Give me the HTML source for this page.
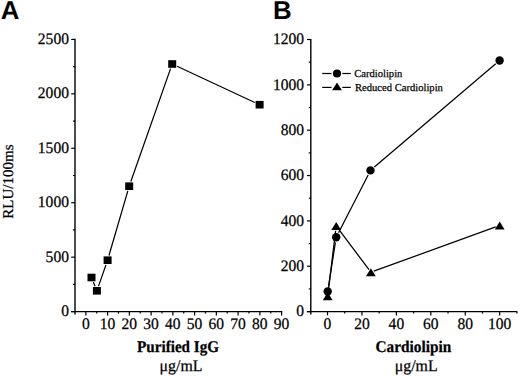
<!DOCTYPE html>
<html><head><meta charset="utf-8"><style>
html,body{margin:0;padding:0;background:#fff;}
body{width:520px;height:376px;overflow:hidden;}
svg{display:block;}
text{fill:#000;stroke:#000;stroke-width:0.25px;text-rendering:geometricPrecision;}
</style></head><body>
<svg width="520" height="376" viewBox="0 0 520 376" shape-rendering="geometricPrecision">
<line x1="75.00" y1="38.80" x2="75.00" y2="314.50" stroke="#000" stroke-width="1.4"/>
<line x1="71.00" y1="311.60" x2="282.23" y2="311.60" stroke="#000" stroke-width="1.2"/>
<line x1="71.20" y1="311.60" x2="75.00" y2="311.60" stroke="#000" stroke-width="1.2"/>
<text transform="translate(68.90,316.00) scale(0.97,1)" text-anchor="end" font-size="16" font-weight="normal" font-family="Liberation Serif" >0</text>
<line x1="71.20" y1="257.16" x2="75.00" y2="257.16" stroke="#000" stroke-width="1.2"/>
<text transform="translate(68.90,261.56) scale(0.97,1)" text-anchor="end" font-size="16" font-weight="normal" font-family="Liberation Serif" >500</text>
<line x1="71.20" y1="202.72" x2="75.00" y2="202.72" stroke="#000" stroke-width="1.2"/>
<text transform="translate(68.90,207.12) scale(0.97,1)" text-anchor="end" font-size="16" font-weight="normal" font-family="Liberation Serif" >1000</text>
<line x1="71.20" y1="148.28" x2="75.00" y2="148.28" stroke="#000" stroke-width="1.2"/>
<text transform="translate(68.90,152.68) scale(0.97,1)" text-anchor="end" font-size="16" font-weight="normal" font-family="Liberation Serif" >1500</text>
<line x1="71.20" y1="93.84" x2="75.00" y2="93.84" stroke="#000" stroke-width="1.2"/>
<text transform="translate(68.90,98.24) scale(0.97,1)" text-anchor="end" font-size="16" font-weight="normal" font-family="Liberation Serif" >2000</text>
<line x1="71.20" y1="39.40" x2="75.00" y2="39.40" stroke="#000" stroke-width="1.2"/>
<text transform="translate(68.90,43.80) scale(0.97,1)" text-anchor="end" font-size="16" font-weight="normal" font-family="Liberation Serif" >2500</text>
<line x1="73.00" y1="284.38" x2="75.00" y2="284.38" stroke="#000" stroke-width="1.2"/>
<line x1="73.00" y1="229.94" x2="75.00" y2="229.94" stroke="#000" stroke-width="1.2"/>
<line x1="73.00" y1="175.50" x2="75.00" y2="175.50" stroke="#000" stroke-width="1.2"/>
<line x1="73.00" y1="121.06" x2="75.00" y2="121.06" stroke="#000" stroke-width="1.2"/>
<line x1="73.00" y1="66.62" x2="75.00" y2="66.62" stroke="#000" stroke-width="1.2"/>
<line x1="85.85" y1="311.60" x2="85.85" y2="315.40" stroke="#000" stroke-width="1.2"/>
<text transform="translate(85.85,328.50) scale(0.97,1)" text-anchor="middle" font-size="16" font-weight="normal" font-family="Liberation Serif" >0</text>
<line x1="107.60" y1="311.60" x2="107.60" y2="315.40" stroke="#000" stroke-width="1.2"/>
<text transform="translate(107.60,328.50) scale(0.97,1)" text-anchor="middle" font-size="16" font-weight="normal" font-family="Liberation Serif" >10</text>
<line x1="129.35" y1="311.60" x2="129.35" y2="315.40" stroke="#000" stroke-width="1.2"/>
<text transform="translate(129.35,328.50) scale(0.97,1)" text-anchor="middle" font-size="16" font-weight="normal" font-family="Liberation Serif" >20</text>
<line x1="151.10" y1="311.60" x2="151.10" y2="315.40" stroke="#000" stroke-width="1.2"/>
<text transform="translate(151.10,328.50) scale(0.97,1)" text-anchor="middle" font-size="16" font-weight="normal" font-family="Liberation Serif" >30</text>
<line x1="172.85" y1="311.60" x2="172.85" y2="315.40" stroke="#000" stroke-width="1.2"/>
<text transform="translate(172.85,328.50) scale(0.97,1)" text-anchor="middle" font-size="16" font-weight="normal" font-family="Liberation Serif" >40</text>
<line x1="194.60" y1="311.60" x2="194.60" y2="315.40" stroke="#000" stroke-width="1.2"/>
<text transform="translate(194.60,328.50) scale(0.97,1)" text-anchor="middle" font-size="16" font-weight="normal" font-family="Liberation Serif" >50</text>
<line x1="216.35" y1="311.60" x2="216.35" y2="315.40" stroke="#000" stroke-width="1.2"/>
<text transform="translate(216.35,328.50) scale(0.97,1)" text-anchor="middle" font-size="16" font-weight="normal" font-family="Liberation Serif" >60</text>
<line x1="238.10" y1="311.60" x2="238.10" y2="315.40" stroke="#000" stroke-width="1.2"/>
<text transform="translate(238.10,328.50) scale(0.97,1)" text-anchor="middle" font-size="16" font-weight="normal" font-family="Liberation Serif" >70</text>
<line x1="259.85" y1="311.60" x2="259.85" y2="315.40" stroke="#000" stroke-width="1.2"/>
<text transform="translate(259.85,328.50) scale(0.97,1)" text-anchor="middle" font-size="16" font-weight="normal" font-family="Liberation Serif" >80</text>
<line x1="281.60" y1="311.60" x2="281.60" y2="315.40" stroke="#000" stroke-width="1.2"/>
<text transform="translate(281.60,328.50) scale(0.97,1)" text-anchor="middle" font-size="16" font-weight="normal" font-family="Liberation Serif" >90</text>
<line x1="96.72" y1="311.60" x2="96.72" y2="313.60" stroke="#000" stroke-width="1.2"/>
<line x1="118.47" y1="311.60" x2="118.47" y2="313.60" stroke="#000" stroke-width="1.2"/>
<line x1="140.22" y1="311.60" x2="140.22" y2="313.60" stroke="#000" stroke-width="1.2"/>
<line x1="161.97" y1="311.60" x2="161.97" y2="313.60" stroke="#000" stroke-width="1.2"/>
<line x1="183.72" y1="311.60" x2="183.72" y2="313.60" stroke="#000" stroke-width="1.2"/>
<line x1="205.47" y1="311.60" x2="205.47" y2="313.60" stroke="#000" stroke-width="1.2"/>
<line x1="227.22" y1="311.60" x2="227.22" y2="313.60" stroke="#000" stroke-width="1.2"/>
<line x1="248.97" y1="311.60" x2="248.97" y2="313.60" stroke="#000" stroke-width="1.2"/>
<line x1="270.72" y1="311.60" x2="270.72" y2="313.60" stroke="#000" stroke-width="1.2"/>
<line x1="310.80" y1="38.90" x2="310.80" y2="314.50" stroke="#000" stroke-width="1.4"/>
<line x1="306.80" y1="311.60" x2="517.20" y2="311.60" stroke="#000" stroke-width="1.2"/>
<line x1="307.00" y1="311.60" x2="310.80" y2="311.60" stroke="#000" stroke-width="1.2"/>
<text transform="translate(304.10,316.30) scale(0.97,1)" text-anchor="end" font-size="16" font-weight="normal" font-family="Liberation Serif" >0</text>
<line x1="307.00" y1="266.25" x2="310.80" y2="266.25" stroke="#000" stroke-width="1.2"/>
<text transform="translate(304.10,270.95) scale(0.97,1)" text-anchor="end" font-size="16" font-weight="normal" font-family="Liberation Serif" >200</text>
<line x1="307.00" y1="220.90" x2="310.80" y2="220.90" stroke="#000" stroke-width="1.2"/>
<text transform="translate(304.10,225.60) scale(0.97,1)" text-anchor="end" font-size="16" font-weight="normal" font-family="Liberation Serif" >400</text>
<line x1="307.00" y1="175.55" x2="310.80" y2="175.55" stroke="#000" stroke-width="1.2"/>
<text transform="translate(304.10,180.25) scale(0.97,1)" text-anchor="end" font-size="16" font-weight="normal" font-family="Liberation Serif" >600</text>
<line x1="307.00" y1="130.20" x2="310.80" y2="130.20" stroke="#000" stroke-width="1.2"/>
<text transform="translate(304.10,134.90) scale(0.97,1)" text-anchor="end" font-size="16" font-weight="normal" font-family="Liberation Serif" >800</text>
<line x1="307.00" y1="84.85" x2="310.80" y2="84.85" stroke="#000" stroke-width="1.2"/>
<text transform="translate(304.10,89.55) scale(0.97,1)" text-anchor="end" font-size="16" font-weight="normal" font-family="Liberation Serif" >1000</text>
<line x1="307.00" y1="39.50" x2="310.80" y2="39.50" stroke="#000" stroke-width="1.2"/>
<text transform="translate(304.10,44.20) scale(0.97,1)" text-anchor="end" font-size="16" font-weight="normal" font-family="Liberation Serif" >1200</text>
<line x1="308.80" y1="288.93" x2="310.80" y2="288.93" stroke="#000" stroke-width="1.2"/>
<line x1="308.80" y1="243.58" x2="310.80" y2="243.58" stroke="#000" stroke-width="1.2"/>
<line x1="308.80" y1="198.23" x2="310.80" y2="198.23" stroke="#000" stroke-width="1.2"/>
<line x1="308.80" y1="152.88" x2="310.80" y2="152.88" stroke="#000" stroke-width="1.2"/>
<line x1="308.80" y1="107.53" x2="310.80" y2="107.53" stroke="#000" stroke-width="1.2"/>
<line x1="308.80" y1="62.18" x2="310.80" y2="62.18" stroke="#000" stroke-width="1.2"/>
<line x1="327.50" y1="311.60" x2="327.50" y2="315.40" stroke="#000" stroke-width="1.2"/>
<text transform="translate(327.50,328.50) scale(0.97,1)" text-anchor="middle" font-size="16" font-weight="normal" font-family="Liberation Serif" >0</text>
<line x1="361.94" y1="311.60" x2="361.94" y2="315.40" stroke="#000" stroke-width="1.2"/>
<text transform="translate(361.94,328.50) scale(0.97,1)" text-anchor="middle" font-size="16" font-weight="normal" font-family="Liberation Serif" >20</text>
<line x1="396.38" y1="311.60" x2="396.38" y2="315.40" stroke="#000" stroke-width="1.2"/>
<text transform="translate(396.38,328.50) scale(0.97,1)" text-anchor="middle" font-size="16" font-weight="normal" font-family="Liberation Serif" >40</text>
<line x1="430.82" y1="311.60" x2="430.82" y2="315.40" stroke="#000" stroke-width="1.2"/>
<text transform="translate(430.82,328.50) scale(0.97,1)" text-anchor="middle" font-size="16" font-weight="normal" font-family="Liberation Serif" >60</text>
<line x1="465.26" y1="311.60" x2="465.26" y2="315.40" stroke="#000" stroke-width="1.2"/>
<text transform="translate(465.26,328.50) scale(0.97,1)" text-anchor="middle" font-size="16" font-weight="normal" font-family="Liberation Serif" >80</text>
<line x1="499.70" y1="311.60" x2="499.70" y2="315.40" stroke="#000" stroke-width="1.2"/>
<text transform="translate(499.70,328.50) scale(0.97,1)" text-anchor="middle" font-size="16" font-weight="normal" font-family="Liberation Serif" >100</text>
<line x1="344.72" y1="311.60" x2="344.72" y2="313.60" stroke="#000" stroke-width="1.2"/>
<line x1="379.16" y1="311.60" x2="379.16" y2="313.60" stroke="#000" stroke-width="1.2"/>
<line x1="413.60" y1="311.60" x2="413.60" y2="313.60" stroke="#000" stroke-width="1.2"/>
<line x1="448.04" y1="311.60" x2="448.04" y2="313.60" stroke="#000" stroke-width="1.2"/>
<line x1="482.48" y1="311.60" x2="482.48" y2="313.60" stroke="#000" stroke-width="1.2"/>
<line x1="516.92" y1="311.60" x2="516.92" y2="313.60" stroke="#000" stroke-width="1.2"/>
<path d="M93.38,282.13 L95.02,286.17 M98.53,286.15 L105.97,264.85 M108.96,255.54 L127.84,190.86 M130.84,181.55 L170.56,68.65 M177.02,66.24 L254.78,102.46" fill="none" stroke="#000" stroke-width="1.25"/>
<rect x="87.50" y="273.70" width="8" height="7.6" fill="#000"/>
<rect x="92.90" y="287.00" width="8" height="7.6" fill="#000"/>
<rect x="103.60" y="256.40" width="8" height="7.6" fill="#000"/>
<rect x="125.20" y="182.40" width="8" height="7.6" fill="#000"/>
<rect x="168.20" y="60.20" width="8" height="7.6" fill="#000"/>
<rect x="255.60" y="100.90" width="8" height="7.6" fill="#000"/>
<path d="M328.49,286.46 L335.41,242.34 M338.53,232.76 L368.17,174.94 M374.38,167.09 L495.72,63.81" fill="none" stroke="#000" stroke-width="1.25"/>
<path d="M328.21,292.00 L335.61,230.84 M339.71,230.67 L369.02,269.69 M373.75,271.17 L495.69,226.95" fill="none" stroke="#000" stroke-width="1.25"/>
<path d="M322.80,300.15 L332.60,300.15 L327.70,292.25 Z" fill="#000"/>
<path d="M331.30,229.95 L341.10,229.95 L336.20,222.05 Z" fill="#000"/>
<path d="M366.00,276.15 L375.80,276.15 L370.90,268.25 Z" fill="#000"/>
<path d="M494.80,229.45 L504.60,229.45 L499.70,221.55 Z" fill="#000"/>
<circle cx="327.70" cy="291.50" r="4.2" fill="#000"/>
<circle cx="336.20" cy="237.30" r="4.2" fill="#000"/>
<circle cx="370.50" cy="170.40" r="4.2" fill="#000"/>
<circle cx="499.60" cy="60.50" r="4.2" fill="#000"/>
<line x1="322.20" y1="73.50" x2="331.50" y2="73.50" stroke="#000" stroke-width="1.2"/>
<line x1="342.30" y1="73.50" x2="350.80" y2="73.50" stroke="#000" stroke-width="1.2"/>
<circle cx="337" cy="73.5" r="4.1" fill="#000"/>
<line x1="322.20" y1="87.40" x2="331.50" y2="87.40" stroke="#000" stroke-width="1.2"/>
<line x1="342.30" y1="87.40" x2="350.80" y2="87.40" stroke="#000" stroke-width="1.2"/>
<path d="M332.10,90.35 L341.90,90.35 L337.00,82.45 Z" fill="#000"/>
<text x="354.15" y="77.20" text-anchor="start" font-size="10.6" font-weight="normal" font-family="Liberation Serif" >Cardiolipin</text>
<text x="354.95" y="90.50" text-anchor="start" font-size="10.6" font-weight="normal" font-family="Liberation Serif" >Reduced Cardiolipin</text>
<text transform="translate(137.05,351.50) scale(0.93,1)" text-anchor="start" font-size="16.3" font-weight="bold" font-family="Liberation Serif" >Purified IgG</text>
<text transform="translate(159.55,371.00) scale(0.98,1)" text-anchor="start" font-size="16.2" font-weight="normal" font-family="Liberation Serif" >&#956;g/mL</text>
<text transform="translate(375.55,351.50) scale(0.94,1)" text-anchor="start" font-size="16.3" font-weight="bold" font-family="Liberation Serif" >Cardiolipin</text>
<text transform="translate(394.75,371.00) scale(0.98,1)" text-anchor="start" font-size="16.2" font-weight="normal" font-family="Liberation Serif" >&#956;g/mL</text>
<text x="12.80" y="218.65" text-anchor="start" font-size="15" font-weight="normal" font-family="Liberation Serif" transform="rotate(-90 12.8 218.65)">RLU/100ms</text>
<text x="0.85" y="18.80" text-anchor="start" font-size="25.8" font-weight="bold" font-family="Liberation Sans" style="stroke:none">A</text>
<text x="273.05" y="19.00" text-anchor="start" font-size="25.8" font-weight="bold" font-family="Liberation Sans" style="stroke:none">B</text>
</svg>
</body></html>
